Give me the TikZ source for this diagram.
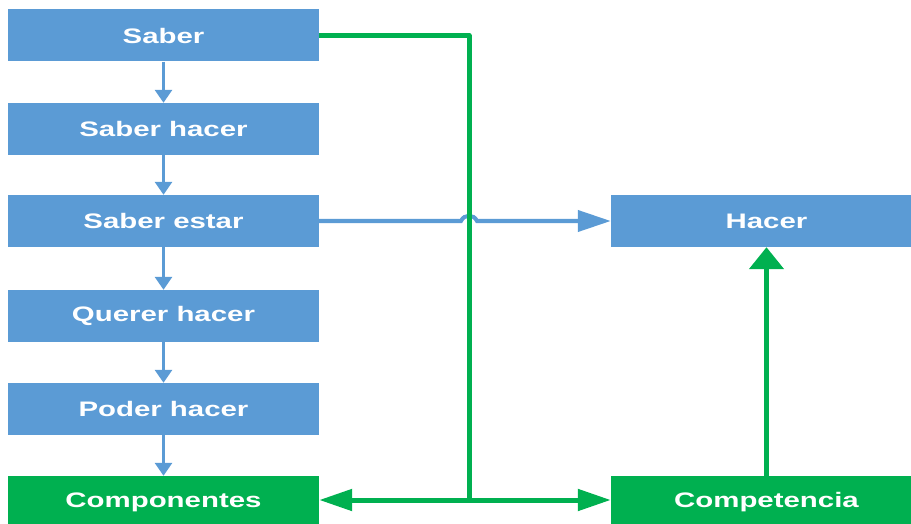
\documentclass[tikz,border=0pt]{standalone}
\usepackage{fontspec}
\setmainfont{Liberation Sans}
\usetikzlibrary{arrows.meta}
\definecolor{boxblue}{HTML}{5B9BD5}
\definecolor{boxgreen}{HTML}{00B050}
\newcommand\widetext[1]{\scalebox{1.4}[1]{#1}}
\tikzset{
  box/.style={minimum width=311pt, minimum height=52pt, inner sep=0pt,
    text=white, font=\fontsize{21}{24}\selectfont\bfseries},
  bluebox/.style={box, fill=boxblue},
  greenbox/.style={box, fill=boxgreen},
  steparrow/.style={draw=boxblue, line width=3pt,
    -{Triangle[length=13pt,width=17pt]}},
  blueline/.style={draw=boxblue, line width=4pt},
  greenline/.style={draw=boxgreen, line width=5pt},
  harrow/.style={-{Triangle[length=33pt,width=21pt]}},
  varrow/.style={-{Triangle[length=22pt,width=34pt]}}
}
\begin{document}
\begin{tikzpicture}[x=1pt,y=-1pt]
\useasboundingbox (0,0) rectangle (911,524);

% left column
\node[bluebox] (saber)  at (163.5,35.5) {\widetext{Saber}};
\node[bluebox] (hacerS) at (163.5,129)  {\widetext{Saber hacer}};
\node[bluebox] (estar)  at (163.5,221)  {\widetext{Saber estar}};
\node[bluebox] (querer) at (163.5,316)  {\widetext{Querer hacer}};
\node[bluebox] (poder)  at (163.5,409)  {\widetext{Poder hacer}};
\node[greenbox] (comp) at (163.5,502) {\widetext{Componentes}};

% right column (runs past the right edge)
\node[bluebox] (hacer) at (766.5,221) {\widetext{Hacer}};
\node[greenbox] (compet) at (766.5,502) {\widetext{Competencia}};

% chain of small arrows
\foreach \a/\b in {saber/hacerS, hacerS/estar, estar/querer, querer/poder, poder/comp}
  \draw[steparrow] (\a.south) -- (\b.north);

% junction points of the green connector
\coordinate (top)  at (469,35.5);
\coordinate (join) at (469,500);
\coordinate (hopA) at (461,221);
\coordinate (hopB) at (477,221);

% Saber estar -> Hacer, hopping over the green line
\draw[blueline, harrow] (estar.east) -- (hopA)
  .. controls (464,214) and (474,214) .. (hopB) -- (hacer.west);

% green connector from Saber down to both bottom boxes
\draw[greenline, line join=round] (saber.east) -- (top) -- (join);
\draw[greenline, harrow] (join) -- (comp.east |- join);
\draw[greenline, harrow] (join) -- (compet.west |- join);

% Competencia -> Hacer
\draw[greenline, varrow] (compet.north) -- (hacer.south);
\end{tikzpicture}
\end{document}
